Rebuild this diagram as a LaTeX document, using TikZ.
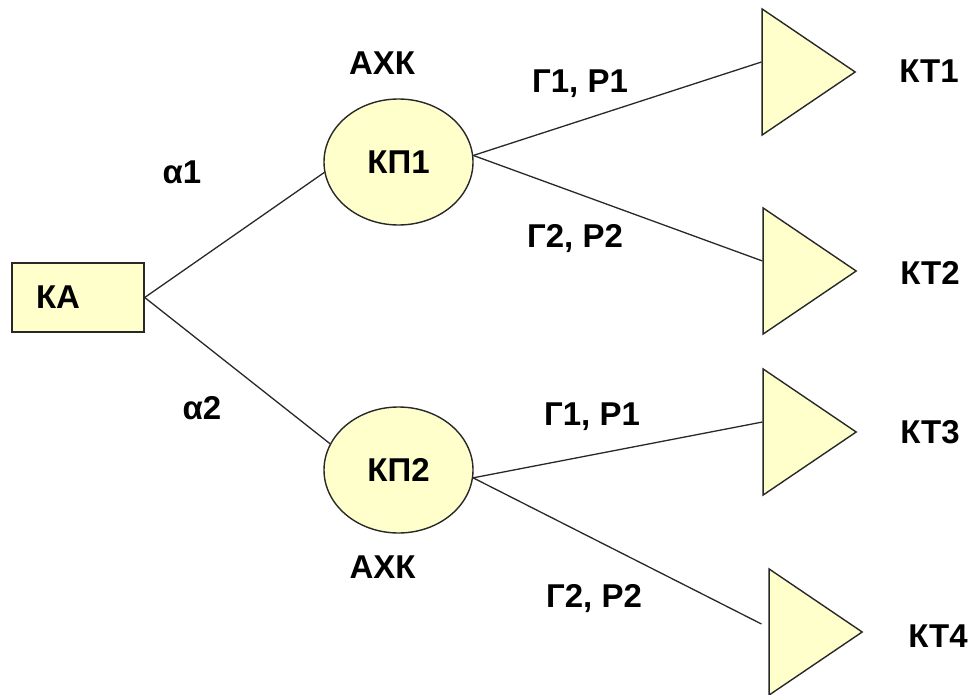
\documentclass[tikz,border=0pt]{standalone}
\usepackage{fontspec}
\setmainfont{Liberation Sans}
\usetikzlibrary{shapes.geometric,calc}
\definecolor{fillyel}{RGB}{255,255,204}
\definecolor{edgec}{RGB}{40,40,40}
\tikzset{
  shapebox/.style={draw=edgec,fill=fillyel,line width=1.4pt},
  ellnode/.style={shapebox,ellipse,minimum width=149pt,minimum height=126pt,inner sep=0pt},
  trinode/.style={shapebox,isosceles triangle,isosceles triangle stretches,minimum width=126pt,minimum height=93pt,inner sep=0pt,anchor=apex},
  lbl/.style={font=\fontsize{33}{40}\selectfont\bfseries,anchor=base,inner sep=0pt},
  conn/.style={draw=edgec,line width=1.3pt}
}
\begin{document}
\begin{tikzpicture}[x=1pt,y=-1pt]
\useasboundingbox (0,0) rectangle (976,695);
% nodes
\node[shapebox,rectangle,minimum width=132pt,minimum height=69pt,text width=84pt,inner xsep=24pt,inner ysep=0pt,align=left,font=\fontsize{33}{40}\selectfont\bfseries] (KA) at (78,297.5) {КА};
\node[ellnode,font=\fontsize{33}{40}\selectfont\bfseries] (KP1) at (398.5,162) {КП1};
\node[ellnode,font=\fontsize{33}{40}\selectfont\bfseries] (KP2) at (398.5,470) {КП2};
\node[trinode] (T1) at (857,72) {};
\node[trinode] (T2) at (858,271) {};
\node[trinode] (T3) at (858,432) {};
\node[trinode] (T4) at (864,632) {};
% labels
\node[lbl] (L1) at (929,83) {КТ1};
\node[lbl] (L2) at (930,284) {КТ2};
\node[lbl] (L3) at (930,443) {КТ3};
\node[lbl] (L4) at (938,647) {КТ4};
\node[lbl] (A1) at (382,75) {АХК};
\node[lbl] (A2) at (382.5,578) {АХК};
\node[lbl] (al1) at (182,183) {α1};
\node[lbl] (al2) at (202,419) {α2};
\node[lbl] (g1) at (580,93) {Г1, Р1};
\node[lbl] (g2) at (575,247) {Г2, Р2};
\node[lbl] (g3) at (592,425) {Г1, Р1};
\node[lbl] (g4) at (594,607) {Г2, Р2};
% connectors
\draw[conn] (KA.east) -- (KP1.188);
\draw[conn] (KA.east) -- (KP2.159);
\draw[conn] (KP1.5) -- ([yshift=10pt]T1.lower side);
\draw[conn] (KP1.5) -- ([yshift=10pt]T2.lower side);
\draw[conn] (KP2.-6) -- ([yshift=10pt]T3.lower side);
\draw[conn] (KP2.-6) -- ([yshift=8pt,xshift=-7pt]T4.lower side);
\end{tikzpicture}
\end{document}
